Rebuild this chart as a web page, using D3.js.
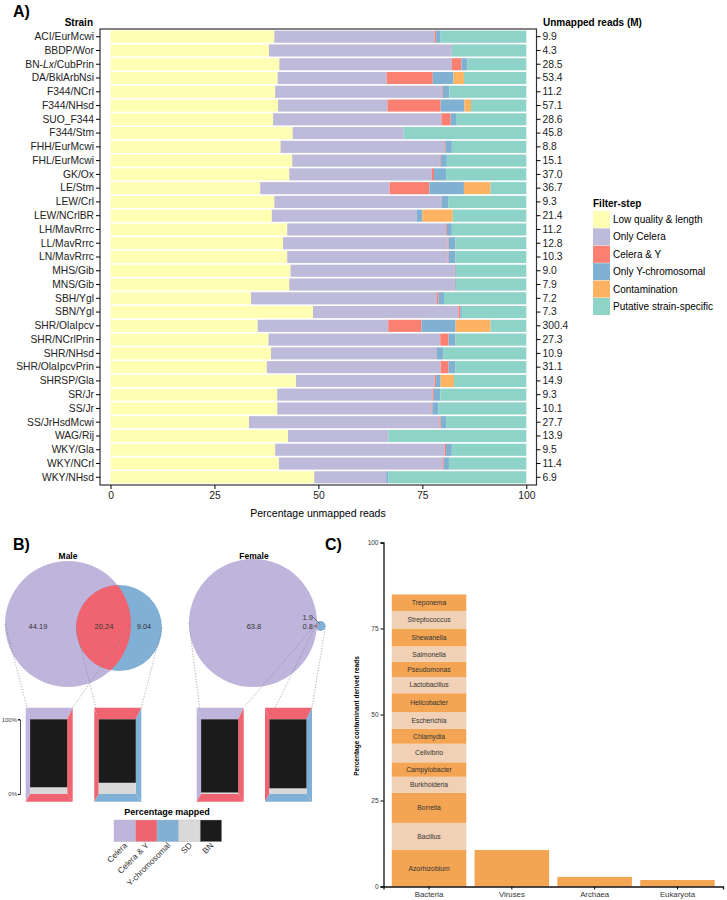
<!DOCTYPE html>
<html>
<head>
<meta charset="utf-8">
<script src="https://cdn.jsdelivr.net/npm/d3@7"></script>
<style>
  body { margin: 0; background: #fff; }
  svg { display: block; font-family: "Liberation Sans", Arial, Helvetica, sans-serif; }
</style>
</head>
<body>
<div id="chart"></div>
<script>
// ---- Panel A data ----
const strains = ["ACI/EurMcwi","BBDP/Wor","BN-Lx/CubPrin","DA/BklArbNsi","F344/NCrl","F344/NHsd","SUO_F344",
  "F344/Stm","FHH/EurMcwi","FHL/EurMcwi","GK/Ox","LE/Stm","LEW/Crl","LEW/NCrlBR","LH/MavRrrc","LL/MavRrrc",
  "LN/MavRrrc","MHS/Gib","MNS/Gib","SBH/Ygl","SBN/Ygl","SHR/OlaIpcv","SHR/NCrlPrin","SHR/NHsd",
  "SHR/OlaIpcvPrin","SHRSP/Gla","SR/Jr","SS/Jr","SS/JrHsdMcwi","WAG/Rij","WKY/Gla","WKY/NCrl","WKY/NHsd"];
const unmappedReads = ["9.9","4.3","28.5","53.4","11.2","57.1","28.6","45.8","8.8","15.1","37.0","36.7","9.3",
  "21.4","11.2","12.8","10.3","9.0","7.9","7.2","7.3","300.4","27.3","10.9","31.1","14.9","9.3","10.1","27.7",
  "13.9","9.5","11.4","6.9"];
const filterSteps = ["Low quality & length","Only Celera","Celera & Y","Only Y-chromosomal","Contamination","Putative strain-specific"];
const lowQuality   = [39.4,38.1,40.6,40.2,39.6,40.3,39.1,43.8,40.9,43.7,43.0,36.0,39.4,38.8,42.5,41.5,42.5,43.3,43.0,33.8,48.7,35.4,38.0,38.6,37.6,44.6,40.1,40.1,33.3,42.7,39.6,40.5,49.0];
const onlyCelera   = [38.6,44.0,41.5,26.2,40.1,26.3,40.5,26.7,39.4,35.5,34.3,31.1,40.1,34.9,38.2,39.6,38.6,39.5,39.8,44.7,35.0,31.4,41.3,39.7,41.8,33.4,37.5,37.1,45.8,24.1,40.8,39.3,17.3];
const celeraAndY   = [0.3,0,2.3,11.1,0.2,12.8,2.2,0,0.2,0.2,0.5,9.6,0.1,0,0.2,0.2,0.2,0.1,0.1,0.4,0.4,8.0,2.0,0.1,1.9,0.3,0.2,0.2,0.3,0,0.3,0.3,0];
const onlyY        = [1.1,0,1.4,5.0,1.6,5.7,1.3,0,1.6,1.5,2.9,8.3,1.6,1.3,1.2,1.6,1.6,0.2,0.2,1.3,0.4,8.2,1.6,1.6,1.6,1.1,1.5,1.4,1.3,0,1.4,1.3,0.5];
const contamination= [0,0,0,2.5,0,1.6,0,0,0,0,0,6.4,0,7.3,0,0,0,0,0,0,0,8.4,0,0,0,3.2,0,0,0,0,0,0,0];
const putative     = [20.6,17.9,14.2,15.0,18.5,13.3,16.9,29.5,17.9,19.1,19.3,8.6,18.8,17.7,17.9,17.1,17.1,16.9,16.9,19.8,15.5,8.6,17.1,20.0,17.1,17.4,20.7,21.2,19.3,33.2,17.9,18.6,33.2];
const xTicksA = [0, 25, 50, 75, 100];

// ---- Panel B data ----
const vennRegions = ["Celera", "Celera & Y", "Y-chromosomal"];
const maleVenn = [44.19, 20.24, 9.04];
const femaleVenn = [63.8, 0.8, 1.9];
const boxNames = ["Male Celera", "Male Y", "Female Celera", "Female Y"];
const boxBN = [91, 85, 98, 92.4];
const boxSD = [9, 15, 2, 7.6];
const mappedKeys = ["Celera", "Celera & Y", "Y-chromosomal", "SD", "BN"];

// ---- Panel C data ----
const kingdoms = ["Bacteria", "Viruses", "Archaea", "Eukaryota"];
const genera = ["Azorhizobium","Bacillus","Borrelia","Burkholderia","Campylobacter","Cellvibrio","Chlamydia",
  "Escherichia","Helicobacter","Lactobacillus","Pseudomonas","Salmonella","Shewanella","Streptococcus","Treponema"];
const generaValues = [10.6,7.9,8.7,4.7,4.2,5.4,4.3,4.9,5.5,4.7,4.4,4.5,5.2,5.1,4.8];
const otherKingdomValues = [10.6, 2.8, 1.9]; // Viruses, Archaea, Eukaryota
const yTicksC = [0, 25, 50, 75, 100];

const set3 = ["#ffffb3", "#bebada", "#fb8072", "#80b1d3", "#fdb462", "#8dd3c7"];
const bPurple = "#bfb5dc", bRed = "#ef6470", bBlue = "#81b0d7", bGray = "#d9d9d9", bBlack = "#1b1b1b";

const svg = d3.select("#chart").append("svg")
  .attr("width", 727).attr("height", 900);

// Panel labels
[["A)", 13, 17], ["B)", 13, 550], ["C)", 325, 550]].forEach(p => {
  svg.append("text").attr("x", p[1]).attr("y", p[2])
    .style("font-size", "16px").style("font-weight", "bold").text(p[0]);
});

// ================= Panel A =================
function panelA() {
  const left = 100, right = 536.5, top = 29, bottom = 485;
  const x = d3.scaleLinear().domain([0, 100]).range([110.5, 526.3]);
  const y = d3.scaleBand().domain(strains).range([top, bottom]).padding(0.12);

  const rows = strains.map((s, i) => ({
    strain: s,
    [filterSteps[0]]: lowQuality[i], [filterSteps[1]]: onlyCelera[i], [filterSteps[2]]: celeraAndY[i],
    [filterSteps[3]]: onlyY[i], [filterSteps[4]]: contamination[i], [filterSteps[5]]: putative[i]
  }));
  const series = d3.stack().keys(filterSteps)(rows);
  const color = d3.scaleOrdinal().domain(filterSteps).range(set3);

  const g = svg.append("g");
  g.selectAll("g.layer").data(series).enter().append("g")
    .attr("fill", d => color(d.key))
    .selectAll("rect").data(d => d).enter().append("rect")
    .attr("x", d => x(d[0]))
    .attr("y", d => y(d.data.strain))
    .attr("width", d => Math.max(0, x(d[1]) - x(d[0])))
    .attr("height", y.bandwidth());

  g.append("rect").attr("x", left).attr("y", top)
    .attr("width", right - left).attr("height", bottom - top)
    .attr("fill", "none").attr("stroke", "#333").attr("stroke-width", 1.2);

  const yl = g.append("g").attr("transform", `translate(${left},0)`)
    .call(d3.axisLeft(y).tickSize(4).tickPadding(2));
  yl.select(".domain").remove();
  yl.selectAll("text").style("font-size", "10.3px").attr("fill", "#222")
    .each(function(d) {
      if (d === "BN-Lx/CubPrin") {
        const t = d3.select(this).text("");
        t.append("tspan").text("BN-");
        t.append("tspan").style("font-style", "italic").text("Lx");
        t.append("tspan").text("/CubPrin");
      }
    });

  const yr = g.append("g").attr("transform", `translate(${right},0)`)
    .call(d3.axisRight(y).tickSize(4).tickPadding(2).tickFormat((d, i) => unmappedReads[i]));
  yr.select(".domain").remove();
  yr.selectAll("text").style("font-size", "10.3px").attr("fill", "#222");

  const xa = g.append("g").attr("transform", `translate(0,${bottom})`)
    .call(d3.axisBottom(x).tickValues(xTicksA).tickSize(4).tickPadding(3));
  xa.select(".domain").remove();
  xa.selectAll("text").style("font-size", "10.3px").attr("fill", "#222");

  g.append("text").attr("x", 318).attr("y", 517).attr("text-anchor", "middle")
    .style("font-size", "10.5px").text("Percentage unmapped reads");
  g.append("text").attr("x", 93).attr("y", 26).attr("text-anchor", "end")
    .style("font-size", "10px").style("font-weight", "bold").text("Strain");
  g.append("text").attr("x", 543).attr("y", 26)
    .style("font-size", "10px").style("font-weight", "bold").text("Unmapped reads (M)");

  // legend
  const lg = g.append("g").attr("transform", "translate(593,204)");
  lg.append("text").attr("y", 3).style("font-size", "10px").style("font-weight", "bold").text("Filter-step");
  const item = lg.selectAll("g.item").data(filterSteps).enter().append("g")
    .attr("transform", (d, i) => `translate(0,${7 + i * 17.4})`);
  item.append("rect").attr("width", 17).attr("height", 17).attr("fill", d => color(d));
  item.append("text").attr("x", 20).attr("y", 12).style("font-size", "10px").text(d => d);
}

// ================= Panel B =================
function panelB() {
  const g = svg.append("g");
  // circle layout (positions and sizes)
  const circles = {
    male:   { a: { cx: 68, cy: 624, r: 63 }, b: { cx: 119, cy: 628, r: 43 } },
    female: { a: { cx: 253, cy: 623, r: 64 }, b: { cx: 320.5, cy: 626, r: 5 } }
  };
  const boxX = [25.7, 94.3, 196.7, 265];
  const boxW = 47, outerTop = 707.7, outerBottom = 801.7, innerL = 4.4, innerR = 5.5;
  const yB = d3.scaleLinear().domain([0, 100]).range([794, 719.3]);
  const boxColors = [[bPurple, bRed], [bRed, bBlue], [bPurple, bRed], [bRed, bBlue]];

  const defs = svg.append("defs");
  ["male", "female"].forEach(k => {
    const c = circles[k];
    defs.append("clipPath").attr("id", "clip-" + k)
      .append("circle").attr("cx", c.a.cx).attr("cy", c.a.cy).attr("r", c.a.r);
    g.append("circle").attr("cx", c.a.cx).attr("cy", c.a.cy).attr("r", c.a.r).attr("fill", bPurple);
    g.append("circle").attr("cx", c.b.cx).attr("cy", c.b.cy).attr("r", c.b.r).attr("fill", bBlue);
    g.append("circle").attr("cx", c.b.cx).attr("cy", c.b.cy).attr("r", c.b.r).attr("fill", bRed)
      .attr("clip-path", `url(#clip-${k})`);
  });

  g.append("text").attr("x", 68).attr("y", 559).attr("text-anchor", "middle")
    .style("font-size", "8.5px").style("font-weight", "bold").text("Male");
  g.append("text").attr("x", 254).attr("y", 559).attr("text-anchor", "middle")
    .style("font-size", "8.5px").style("font-weight", "bold").text("Female");

  const vlab = (x, y, t, anchor) => g.append("text").attr("x", x).attr("y", y)
    .attr("text-anchor", anchor || "middle").attr("dy", "0.35em")
    .style("font-size", "7.5px").attr("fill", "#333").text(t);
  vlab(38, 626, maleVenn[0]);
  vlab(104, 626, maleVenn[1]);
  vlab(144, 626, maleVenn[2]);
  vlab(254, 626, femaleVenn[0]);
  vlab(313, 626, femaleVenn[1], "end");
  vlab(313, 617, femaleVenn[2], "end");
  g.append("line").attr("x1", 313.5).attr("y1", 617.5).attr("x2", 319.5).attr("y2", 623.5)
    .attr("stroke", "#333").attr("stroke-width", 0.6);
  g.append("line").attr("x1", 313.5).attr("y1", 626).attr("x2", 316.5).attr("y2", 626)
    .attr("stroke", "#333").attr("stroke-width", 0.6);

  // dotted connectors
  const circList = [circles.male.a, circles.male.b, circles.female.a, circles.female.b];
  circList.forEach((c, i) => {
    const x0 = boxX[i], x1 = boxX[i] + boxW;
    [[c.cx - c.r, c.cy, x0 + innerL, yB(100)], [c.cx + c.r, c.cy, x1, outerTop]].forEach(l => {
      g.append("line").attr("x1", l[0]).attr("y1", l[1]).attr("x2", l[2]).attr("y2", l[3])
        .attr("stroke", "#777").attr("stroke-width", 0.6).attr("stroke-dasharray", "1.2,1.6");
    });
  });

  // boxes
  boxNames.forEach((name, i) => {
    const ox0 = boxX[i], ox1 = boxX[i] + boxW, ix0 = ox0 + innerL, ix1 = ox1 - innerR;
    const iy0 = yB(100), iy1 = yB(0);
    const [cA, cB] = boxColors[i];
    const poly = (pts, c) => g.append("polygon").attr("points", pts.map(p => p.join(",")).join(" ")).attr("fill", c);
    poly([[ox0, outerTop], [ox1, outerTop], [ix1, iy0], [ix0, iy0]], cA);
    poly([[ox0, outerTop], [ix0, iy0], [ix0, iy1], [ox0, outerBottom]], cA);
    poly([[ox1, outerTop], [ox1, outerBottom], [ix1, iy1], [ix1, iy0]], cB);
    poly([[ox0, outerBottom], [ox1, outerBottom], [ix1, iy1], [ix0, iy1]], cB);
    g.append("rect").attr("x", ix0).attr("width", ix1 - ix0)
      .attr("y", yB(boxSD[i])).attr("height", yB(0) - yB(boxSD[i])).attr("fill", bGray);
    g.append("rect").attr("x", ix0).attr("width", ix1 - ix0)
      .attr("y", yB(boxSD[i] + boxBN[i])).attr("height", yB(boxSD[i]) - yB(boxSD[i] + boxBN[i])).attr("fill", bBlack);
  });

  const ax = g.append("g").attr("transform", "translate(20,0)")
    .call(d3.axisLeft(yB).tickValues([0, 100]).tickSize(2).tickPadding(1).tickFormat(d => d + "%"));
  ax.select(".domain").attr("stroke", "#555");
  ax.selectAll("text").style("font-size", "6px").attr("fill", "#444");

  // legend
  const sw = d3.scaleBand().domain(mappedKeys).range([114, 221.7]);
  const swColors = [bPurple, bRed, bBlue, bGray, bBlack];
  g.append("text").attr("x", 167).attr("y", 815).attr("text-anchor", "middle")
    .style("font-size", "9px").style("font-weight", "bold").text("Percentage mapped");
  g.selectAll("rect.sw").data(mappedKeys).enter().append("rect").attr("class", "sw")
    .attr("x", d => sw(d)).attr("y", 820).attr("width", sw.bandwidth()).attr("height", 21.7)
    .attr("fill", (d, i) => swColors[i]).attr("stroke", "#bbb").attr("stroke-width", 0.4);
  g.selectAll("text.swl").data(mappedKeys).enter().append("text").attr("class", "swl")
    .attr("transform", d => `translate(${sw(d) + sw.bandwidth() / 2 + 3},${846}) rotate(-45)`)
    .attr("text-anchor", "end").style("font-size", "8.3px").attr("fill", "#333").text(d => d);
}

// ================= Panel C =================
function panelC() {
  const g = svg.append("g");
  const x = d3.scaleBand().domain(kingdoms).range([383.5, 723]).padding(0.1);
  const y = d3.scaleLinear().domain([0, 100]).range([886.5, 542.5]);
  const dark = "#f4a553", light = "#f1d1b5";

  const ends = d3.cumsum(generaValues);
  const segs = genera.map((n, i) => ({ name: n, y0: ends[i] - generaValues[i], y1: ends[i], i }));
  g.selectAll("rect.gen").data(segs).enter().append("rect").attr("class", "gen")
    .attr("x", x("Bacteria")).attr("width", x.bandwidth())
    .attr("y", d => y(d.y1)).attr("height", d => y(d.y0) - y(d.y1))
    .attr("fill", d => d.i % 2 === 0 ? dark : light);
  g.selectAll("text.gen").data(segs).enter().append("text").attr("class", "gen")
    .attr("x", x("Bacteria") + x.bandwidth() / 2).attr("y", d => y((d.y0 + d.y1) / 2))
    .attr("dy", "0.35em").attr("text-anchor", "middle")
    .style("font-size", "6.8px").attr("fill", "#333").text(d => d.name);

  const others = kingdoms.slice(1).map((k, i) => ({ k, v: otherKingdomValues[i] }));
  g.selectAll("rect.oth").data(others).enter().append("rect").attr("class", "oth")
    .attr("x", d => x(d.k)).attr("width", x.bandwidth())
    .attr("y", d => y(d.v)).attr("height", d => y(0) - y(d.v)).attr("fill", dark);

  const ya = g.append("g").attr("transform", "translate(383.5,0)")
    .call(d3.axisLeft(y).tickValues(yTicksC).tickSize(3).tickPadding(2));
  ya.select(".domain").attr("stroke", "#111").attr("stroke-width", 1.3);
  ya.selectAll("text").style("font-size", "6.5px").attr("fill", "#333");

  const xa = g.append("g").attr("transform", "translate(0,886.5)")
    .call(d3.axisBottom(x).tickSize(3).tickPadding(2));
  xa.select(".domain").attr("stroke", "#111").attr("stroke-width", 1.3);
  xa.selectAll("text").style("font-size", "7.8px").attr("fill", "#333");

  g.append("text").attr("transform", "translate(359,716) rotate(-90)").attr("text-anchor", "middle")
    .style("font-size", "6.5px").style("font-weight", "bold").text("Percentage contaminant derived reads");
}

panelA();
panelB();
panelC();
</script>
</body>
</html>
